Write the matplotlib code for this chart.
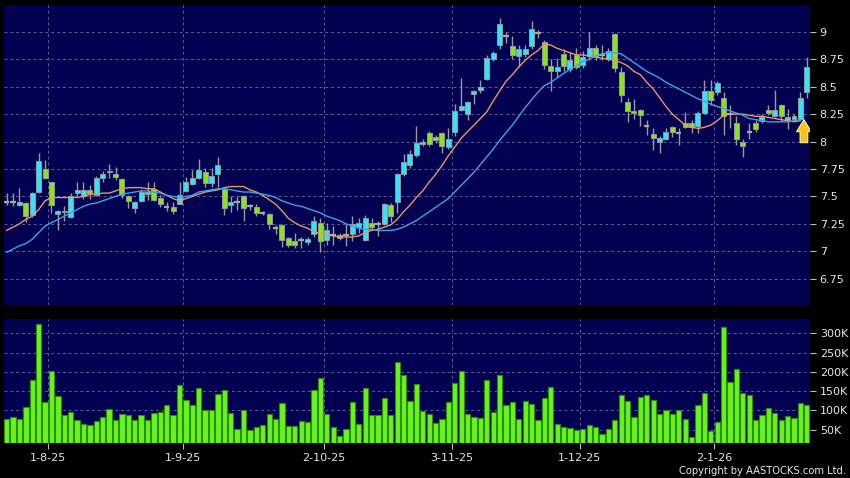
import numpy as np
import matplotlib
matplotlib.use('Agg')
import matplotlib.pyplot as plt
from matplotlib.ticker import FuncFormatter
from matplotlib.patches import FancyArrow

# daily candles, oldest first (last bar is the live one)
opens = [7.45, 7.45, 7.42, 7.44, 7.33, 7.54, 7.75, 7.63, 7.34, 7.37,
         7.31, 7.53, 7.50, 7.56, 7.51, 7.67, 7.73, 7.70, 7.66, 7.50,
         7.39, 7.46, 7.52, 7.57, 7.49, 7.40, 7.40, 7.43, 7.55, 7.61,
         7.67, 7.72, 7.62, 7.70, 7.57, 7.42, 7.45, 7.50, 7.41, 7.40,
         7.35, 7.34, 7.21, 7.24, 7.12, 7.09, 7.10, 7.08, 7.16, 7.26,
         7.10, 7.15, 7.15, 7.15, 7.16, 7.22, 7.10, 7.26, 7.25, 7.25,
         7.42, 7.45, 7.70, 7.79, 7.88, 7.98, 8.08, 8.04, 8.08, 7.95,
         8.09, 8.29, 8.25, 8.43, 8.47, 8.57, 8.75, 8.88, 8.96, 8.87,
         8.78, 8.80, 8.87, 8.99, 8.91, 8.69, 8.64, 8.80, 8.66, 8.79,
         8.70, 8.78, 8.85, 8.79, 8.75, 8.98, 8.63, 8.36, 8.28, 8.29,
         8.14, 8.07, 8.00, 8.02, 8.13, 8.08, 8.17, 8.17, 8.14, 8.26,
         8.46, 8.45, 8.40, 8.25, 8.17, 8.00, 8.09, 8.17, 8.19, 8.29,
         8.23, 8.33, 8.20, 8.23, 8.21, 8.45]
highs = [7.53, 7.53, 7.58, 7.45, 7.54, 7.90, 7.83, 7.63, 7.38, 7.41,
         7.53, 7.63, 7.63, 7.60, 7.69, 7.73, 7.80, 7.77, 7.67, 7.51,
         7.46, 7.57, 7.63, 7.63, 7.51, 7.45, 7.45, 7.63, 7.68, 7.74,
         7.84, 7.76, 7.76, 7.86, 7.58, 7.50, 7.50, 7.51, 7.43, 7.43,
         7.37, 7.35, 7.24, 7.25, 7.13, 7.17, 7.13, 7.13, 7.32, 7.30,
         7.26, 7.23, 7.17, 7.25, 7.32, 7.30, 7.33, 7.30, 7.28, 7.44,
         7.44, 7.71, 7.89, 7.92, 8.14, 8.02, 8.10, 8.06, 8.09, 8.12,
         8.34, 8.58, 8.37, 8.47, 8.56, 8.79, 8.83, 9.13, 9.00, 8.96,
         8.88, 8.88, 9.10, 9.02, 8.93, 8.75, 8.76, 8.84, 8.82, 8.85,
         8.83, 9.00, 8.88, 8.88, 8.85, 8.99, 8.68, 8.40, 8.39, 8.30,
         8.20, 8.12, 8.05, 8.12, 8.14, 8.12, 8.27, 8.20, 8.28, 8.56,
         8.56, 8.55, 8.45, 8.33, 8.23, 8.02, 8.17, 8.20, 8.25, 8.33,
         8.47, 8.34, 8.30, 8.25, 8.45, 8.77]
lows = [7.42, 7.41, 7.41, 7.27, 7.31, 7.53, 7.66, 7.35, 7.19, 7.28,
        7.30, 7.50, 7.48, 7.48, 7.50, 7.63, 7.67, 7.65, 7.49, 7.39,
        7.35, 7.45, 7.47, 7.46, 7.40, 7.37, 7.34, 7.43, 7.54, 7.60,
        7.66, 7.59, 7.59, 7.59, 7.33, 7.36, 7.38, 7.28, 7.38, 7.32,
        7.33, 7.20, 7.16, 7.04, 7.04, 7.03, 7.03, 7.06, 7.13, 6.99,
        7.06, 7.06, 7.10, 7.05, 7.09, 7.17, 7.09, 7.20, 7.14, 7.24,
        7.27, 7.35, 7.69, 7.76, 7.86, 7.96, 7.96, 7.99, 7.90, 7.93,
        8.05, 8.28, 8.20, 8.34, 8.44, 8.56, 8.73, 8.84, 8.90, 8.75,
        8.68, 8.77, 8.84, 8.94, 8.66, 8.46, 8.59, 8.64, 8.63, 8.66,
        8.67, 8.74, 8.74, 8.74, 8.73, 8.63, 8.36, 8.18, 8.21, 8.14,
        8.06, 7.92, 7.90, 8.01, 8.04, 7.97, 8.12, 8.08, 8.08, 8.25,
        8.33, 8.42, 8.06, 8.12, 7.97, 7.86, 8.02, 8.09, 8.17, 8.24,
        8.22, 8.19, 8.11, 8.19, 8.20, 8.40]
closes = [7.45, 7.45, 7.45, 7.32, 7.53, 7.82, 7.67, 7.42, 7.37, 7.36,
          7.50, 7.56, 7.56, 7.53, 7.67, 7.70, 7.72, 7.68, 7.51, 7.46,
          7.45, 7.54, 7.54, 7.47, 7.43, 7.40, 7.37, 7.51, 7.63, 7.67,
          7.74, 7.62, 7.69, 7.79, 7.39, 7.45, 7.45, 7.39, 7.41, 7.35,
          7.35, 7.25, 7.21, 7.10, 7.06, 7.06, 7.10, 7.11, 7.28, 7.09,
          7.19, 7.15, 7.12, 7.15, 7.25, 7.26, 7.30, 7.22, 7.25, 7.43,
          7.32, 7.70, 7.81, 7.89, 7.99, 8.00, 7.98, 8.01, 7.96, 8.02,
          8.28, 8.32, 8.36, 8.46, 8.50, 8.76, 8.81, 9.07, 8.96, 8.79,
          8.84, 8.84, 9.03, 8.99, 8.70, 8.64, 8.68, 8.69, 8.74, 8.68,
          8.77, 8.85, 8.77, 8.79, 8.83, 8.67, 8.42, 8.28, 8.26, 8.24,
          8.14, 8.03, 8.03, 8.09, 8.09, 8.08, 8.13, 8.13, 8.26, 8.46,
          8.38, 8.53, 8.23, 8.25, 8.02, 7.96, 8.09, 8.11, 8.22, 8.26,
          8.29, 8.23, 8.22, 8.21, 8.40, 8.68]

# moving averages as drawn (they stop one bar before the live candle)
ma_short = [7.19, 7.22, 7.25, 7.29, 7.32, 7.38, 7.46, 7.49, 7.49, 7.49,
            7.49, 7.49, 7.50, 7.52, 7.52, 7.53, 7.53, 7.55, 7.57, 7.58,
            7.58, 7.58, 7.57, 7.57, 7.54, 7.51, 7.48, 7.46, 7.48, 7.50,
            7.52, 7.54, 7.55, 7.56, 7.58, 7.59, 7.59, 7.59, 7.56, 7.54,
            7.51, 7.47, 7.43, 7.37, 7.30, 7.26, 7.23, 7.21, 7.18, 7.16,
            7.15, 7.14, 7.13, 7.13, 7.13, 7.14, 7.17, 7.19, 7.20, 7.22,
            7.24, 7.29, 7.36, 7.42, 7.49, 7.55, 7.63, 7.70, 7.78, 7.87,
            7.95, 8.03, 8.09, 8.15, 8.21, 8.27, 8.37, 8.46, 8.55, 8.61,
            8.68, 8.74, 8.79, 8.83, 8.89, 8.88, 8.85, 8.83, 8.81, 8.79,
            8.79, 8.78, 8.77, 8.76, 8.75, 8.74, 8.72, 8.69, 8.64, 8.61,
            8.54, 8.48, 8.40, 8.32, 8.25, 8.20, 8.15, 8.13, 8.12, 8.13,
            8.15, 8.19, 8.24, 8.25, 8.25, 8.25, 8.24, 8.23, 8.23, 8.22,
            8.21, 8.20, 8.19, 8.18, 8.19]
ma_long = [6.99, 7.02, 7.05, 7.07, 7.11, 7.17, 7.23, 7.26, 7.29, 7.32,
           7.35, 7.38, 7.41, 7.43, 7.44, 7.46, 7.48, 7.50, 7.52, 7.53,
           7.54, 7.55, 7.55, 7.54, 7.53, 7.51, 7.50, 7.49, 7.50, 7.51,
           7.54, 7.55, 7.56, 7.57, 7.57, 7.56, 7.55, 7.54, 7.54, 7.53,
           7.52, 7.51, 7.49, 7.46, 7.44, 7.42, 7.41, 7.39, 7.37, 7.35,
           7.32, 7.30, 7.28, 7.25, 7.23, 7.21, 7.20, 7.20, 7.19, 7.19,
           7.19, 7.20, 7.22, 7.25, 7.28, 7.32, 7.36, 7.40, 7.44, 7.48,
           7.54, 7.60, 7.66, 7.72, 7.79, 7.86, 7.93, 8.01, 8.08, 8.15,
           8.23, 8.31, 8.38, 8.45, 8.51, 8.54, 8.58, 8.62, 8.66, 8.69,
           8.73, 8.75, 8.78, 8.80, 8.81, 8.81, 8.80, 8.76, 8.72, 8.68,
           8.64, 8.61, 8.58, 8.54, 8.51, 8.48, 8.45, 8.42, 8.39, 8.37,
           8.34, 8.32, 8.30, 8.28, 8.26, 8.24, 8.21, 8.20, 8.19, 8.18,
           8.18, 8.18, 8.18, 8.19, 8.20]

# volume in thousands of shares
volume_k = [78, 82, 78, 108, 178, 323, 122, 203, 137, 87,
            97, 76, 64, 63, 73, 82, 104, 76, 91, 89,
            74, 87, 76, 93, 96, 114, 89, 165, 126, 113,
            158, 102, 101, 143, 154, 93, 52, 101, 49, 56,
            61, 92, 79, 118, 60, 59, 72, 71, 153, 185,
            91, 57, 33, 51, 123, 66, 158, 89, 87, 131,
            88, 226, 191, 125, 168, 99, 92, 67, 79, 123,
            171, 203, 90, 83, 80, 178, 95, 191, 114, 121,
            79, 125, 117, 76, 131, 160, 64, 58, 55, 49,
            51, 61, 56, 38, 53, 75, 139, 125, 83, 134,
            141, 127, 92, 102, 90, 100, 78, 30, 113, 146,
            47, 69, 317, 173, 208, 146, 139, 74, 87, 107,
            94, 74, 86, 81, 119, 114]

date_ticks = [6.5, 27.5, 49.5, 69.5, 89.5, 110.5]
date_labels = ['1-8-25', '1-9-25', '2-10-25', '3-11-25', '1-12-25', '2-1-26']
price_ticks = [6.75, 7, 7.25, 7.5, 7.75, 8, 8.25, 8.5, 8.75, 9]
vol_ticks = [50, 100, 150, 200, 250, 300]

BG = '#020050'
GRID = '#5c5c96'
TXT = '#e6e6e6'
UP = '#35e4f4'
DOWN = '#8ee21c'
EDGE = '#8a9ca4'

o = np.array(opens)
h = np.array(highs)
l = np.array(lows)
c = np.array(closes)
x = np.arange(len(o))

fig = plt.figure(figsize=(8.5, 4.78), dpi=100, facecolor='black')
ax = fig.add_axes([4 / 850, 173 / 478, 806 / 850, 300 / 478])
axv = fig.add_axes([4 / 850, 35 / 478, 806 / 850, 124 / 478], sharex=ax)

for a in (ax, axv):
    a.set_facecolor(BG)
    for s in a.spines.values():
        s.set_visible(False)
    a.grid(True, color=GRID, linestyle=(0, (3, 3)), linewidth=0.7)
    a.set_axisbelow(True)
    a.yaxis.tick_right()
    a.tick_params(axis='y', colors='#bbbbbb', labelcolor=TXT, labelsize=8,
                  length=4, width=0.8, pad=3)

# candles
ax.vlines(x, l, h, color='#9a9a9a', linewidth=1, zorder=2)
up = c > o
down = c < o
flat = c == o
ax.bar(x[up], (c - o)[up], bottom=o[up], width=0.78, color=UP,
       edgecolor=EDGE, linewidth=0.7, zorder=3)
ax.bar(x[down], (o - c)[down], bottom=c[down], width=0.78, color=DOWN,
       edgecolor=EDGE, linewidth=0.7, zorder=3)
ax.hlines(c[flat], x[flat] - 0.42, x[flat] + 0.42, color='#a8a8a8',
          linewidth=1.6, zorder=3)

xm = np.arange(len(ma_short))
ax.plot(xm, ma_short, color='#e8966a', linewidth=1, zorder=4)
ax.plot(xm, ma_long, color='#3aa4ea', linewidth=1, zorder=4)

# marker arrow under the latest close of the averages
ax.add_patch(FancyArrow(124.55, 7.99, 0, 0.21, width=1.2, head_width=2.3,
                        head_length=0.11, length_includes_head=True,
                        facecolor='#f7c21a', edgecolor='#fff0a0',
                        linewidth=0.8, zorder=5))

ax.set_xlim(-0.42, 125.5)
ax.set_ylim(6.51, 9.245)
ax.set_yticks(price_ticks)
ax.yaxis.set_major_formatter(FuncFormatter(lambda v, p: '%g' % v))
ax.set_xticks(date_ticks)
ax.tick_params(axis='x', length=0, labelbottom=False)

# volume
axv.bar(x, np.array(volume_k) * 1000, width=0.82, color='#66f41a',
        edgecolor='#2f8a0c', linewidth=0.8, zorder=3)
axv.set_ylim(15600, 337000)
axv.set_yticks([v * 1000 for v in vol_ticks])
axv.yaxis.set_major_formatter(FuncFormatter(lambda v, p: '%dK' % (v / 1000)))
axv.set_xticks(date_ticks)
axv.set_xticklabels(date_labels)
axv.tick_params(axis='x', colors='#bbbbbb', labelcolor=TXT, labelsize=8,
                length=4, width=0.8, pad=3)

fig.text(0.995, 0.005, 'Copyright by AASTOCKS.com Ltd.', color=TXT,
         fontsize=7.2, ha='right', va='bottom')

fig.savefig('out.png', dpi=100, facecolor='black')
